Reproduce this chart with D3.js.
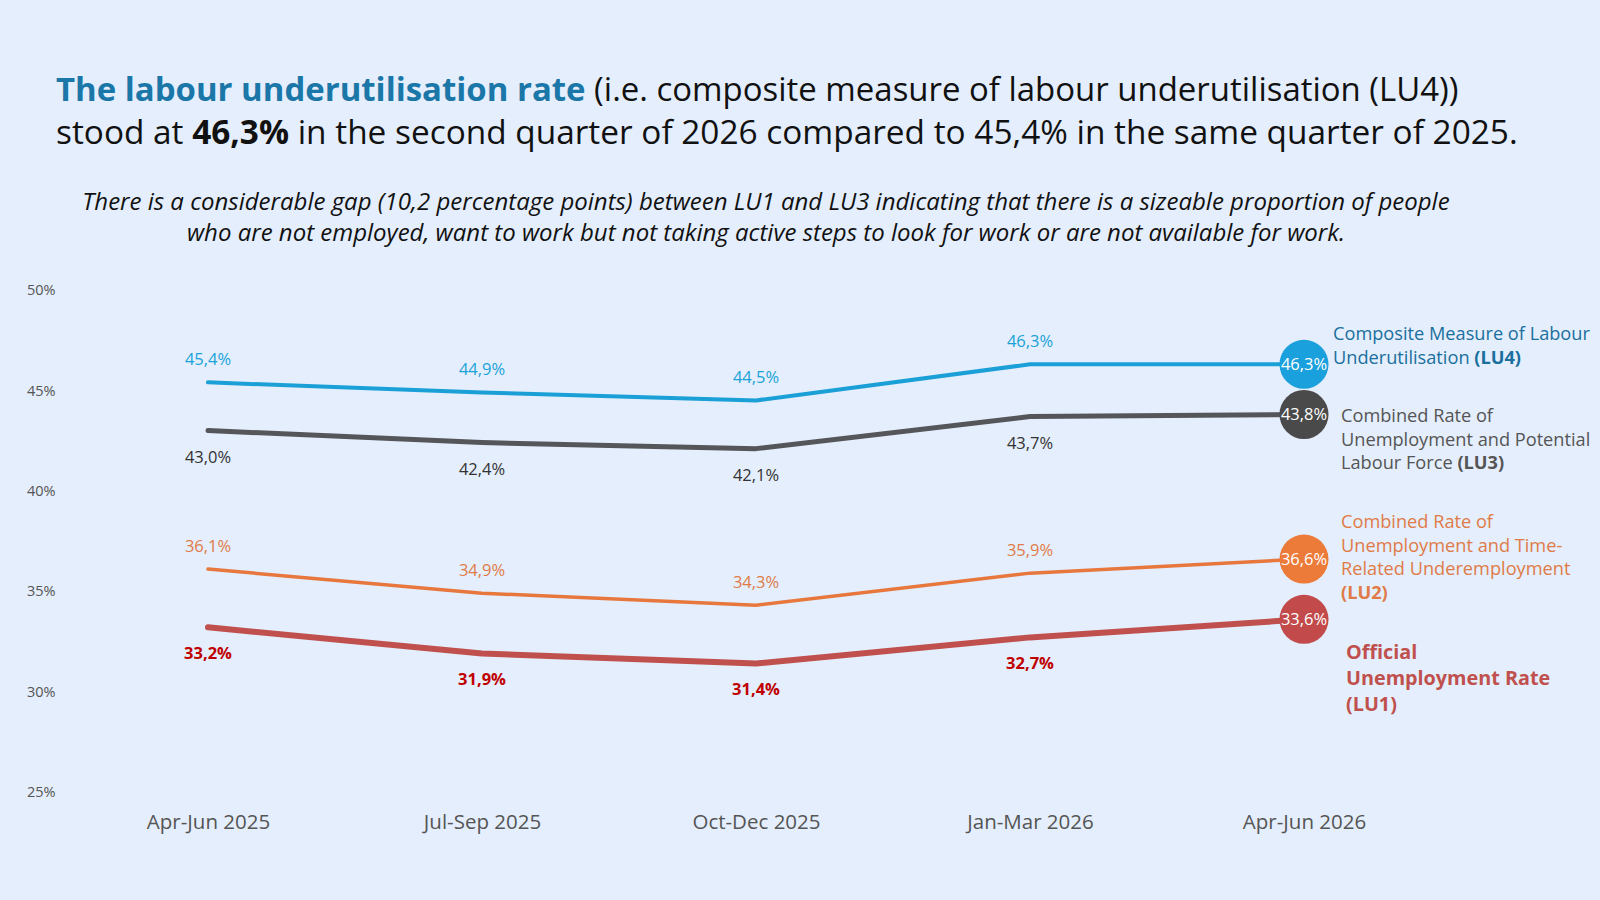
<!DOCTYPE html>
<html>
<head>
<meta charset="utf-8">
<script src="https://cdn.jsdelivr.net/npm/d3@7"></script>
<style>
  html, body { margin: 0; padding: 0; background: #e4eefc; }
  svg { display: block; font-family: 'Open Sans', 'Noto Sans', sans-serif; }
</style>
</head>
<body>
<svg id="chart" width="1600" height="900"></svg>
<script>
// Chart data
const quarters = ['Apr-Jun 2025', 'Jul-Sep 2025', 'Oct-Dec 2025', 'Jan-Mar 2026', 'Apr-Jun 2026'];
const lu4Values = [45.4, 44.9, 44.5, 46.3, 46.3];
const lu3Values = [43.0, 42.4, 42.1, 43.7, 43.8];
const lu2Values = [36.1, 34.9, 34.3, 35.9, 36.6];
const lu1Values = [33.2, 31.9, 31.4, 32.7, 33.6];
const yTicks = [25, 30, 35, 40, 45, 50];

const lu4Legend = ['Composite Measure of Labour', 'Underutilisation |(LU4)'];
const lu3Legend = ['Combined Rate of', 'Unemployment and Potential', 'Labour Force |(LU3)'];
const lu2Legend = ['Combined Rate of', 'Unemployment and Time-', 'Related Underemployment', '|(LU2)'];
const lu1Legend = ['|Official', '|Unemployment Rate', '|(LU1)'];

const svg = d3.select('#chart');
const fmt = (v) => d3.format('.1f')(v).replace('.', ',') + '%';

// Shrink / grow a text element so it spans a given width
function fitWidth(textSel, target) {
  const w = textSel.node().getComputedTextLength();
  const size = parseFloat(textSel.attr('font-size'));
  textSel.attr('font-size', size * target / w);
}

// Headline
const t1 = svg.append('text')
  .attr('x', 56).attr('y', 101)
  .attr('font-size', 31)
  .attr('fill', '#111');
t1.append('tspan').attr('font-weight', 700).attr('fill', '#1a77a8').text('The labour underutilisation rate');
t1.append('tspan').text(' (i.e. composite measure of labour underutilisation (LU4))');
fitWidth(t1, 1403);

const t2 = svg.append('text')
  .attr('x', 56).attr('y', 144)
  .attr('font-size', 31)
  .attr('fill', '#111');
t2.append('tspan').text('stood at ');
t2.append('tspan').attr('font-weight', 700).text('46,3%');
t2.append('tspan').text(' in the second quarter of 2026 compared to 45,4% in the same quarter of 2025.');
fitWidth(t2, 1462);

// Italic sub heading
const s1 = svg.append('text')
  .attr('x', 766).attr('y', 210)
  .attr('text-anchor', 'middle')
  .attr('font-size', 22)
  .attr('font-style', 'italic')
  .attr('fill', '#111')
  .text('There is a considerable gap (10,2 percentage points) between LU1 and LU3 indicating that there is a sizeable proportion of people');
fitWidth(s1, 1368);
svg.append('text')
  .attr('x', 766).attr('y', 241)
  .attr('text-anchor', 'middle')
  .attr('font-size', parseFloat(s1.attr('font-size')))
  .attr('font-style', 'italic')
  .attr('fill', '#111')
  .text('who are not employed, want to work but not taking active steps to look for work or are not available for work.');

// Scales
const xScale = d3.scalePoint()
  .domain(quarters)
  .range([208, 1304]);

const yScale = d3.scaleLinear()
  .domain([25, 50])
  .range([792, 290]);

// Y axis labels only (no lines)
const yAxis = svg.append('g')
  .attr('transform', 'translate(27,0)')
  .call(d3.axisLeft(yScale).tickValues(yTicks).tickSize(0).tickFormat((d) => d + '%'));
yAxis.select('.domain').remove();
yAxis.selectAll('text')
  .attr('text-anchor', 'start')
  .attr('x', 0)
  .attr('font-size', 14.5)
  .attr('font-family', "'Open Sans', sans-serif")
  .attr('fill', '#555');

// X axis labels
const xAxis = svg.append('g')
  .attr('transform', 'translate(0,811)')
  .call(d3.axisBottom(xScale).tickSize(0));
xAxis.select('.domain').remove();
xAxis.selectAll('text')
  .attr('font-size', 20.5)
  .attr('font-family', "'Open Sans', sans-serif")
  .attr('fill', '#555');

// Series setup
const series = [
  { key: 'LU1', values: lu1Values, line: '#c0504d', width: 6, label: '#c00000', bold: true, dy: 32, dot: '#c24a4a', legend: lu1Legend, legendColor: '#c0504d', legendX: 1346, legendY: 659, legendSize: 19.8, legendStep: 26 },
  { key: 'LU2', values: lu2Values, line: '#e8773d', width: 3.5, label: '#e07b48', bold: false, dy: -17, dot: '#ec7a38', legend: lu2Legend, legendColor: '#e07b48', legendX: 1341, legendY: 528, legendSize: 18.2, legendStep: 23.5 },
  { key: 'LU3', values: lu3Values, line: '#55565a', width: 5, label: '#333', bold: false, dy: 32, dot: '#4a4a4a', legend: lu3Legend, legendColor: '#555', legendX: 1341, legendY: 422, legendSize: 18.2, legendStep: 23.5 },
  { key: 'LU4', values: lu4Values, line: '#1a9fd6', width: 4, label: '#1aa3d9', bold: false, dy: -17, dot: '#1aa0dc', legend: lu4Legend, legendColor: '#1a6f9e', legendX: 1333, legendY: 340, legendSize: 18.2, legendStep: 23.5 },
];

const line = d3.line()
  .x((d, i) => xScale(quarters[i]))
  .y((d) => yScale(d));

series.forEach((s) => {
  const g = svg.append('g').attr('class', `series ${s.key}`);

  g.append('path')
    .datum(s.values)
    .attr('d', line)
    .attr('fill', 'none')
    .attr('stroke', s.line)
    .attr('stroke-width', s.width)
    .attr('stroke-linecap', 'round')
    .attr('stroke-linejoin', 'round');

  // Value labels for all but the last point
  g.selectAll('.value-label')
    .data(s.values.slice(0, -1))
    .enter().append('text')
    .attr('class', 'value-label')
    .attr('x', (d, i) => xScale(quarters[i]))
    .attr('y', (d) => yScale(d) + s.dy)
    .attr('text-anchor', 'middle')
    .attr('font-size', 16.5)
    .attr('font-weight', s.bold ? 700 : 400)
    .attr('fill', s.label)
    .text(fmt);

  // Big dot at the last point
  const last = s.values.length - 1;
  g.append('circle')
    .attr('cx', xScale(quarters[last]))
    .attr('cy', yScale(s.values[last]))
    .attr('r', 24.5)
    .attr('fill', s.dot);
  g.append('text')
    .attr('x', xScale(quarters[last]))
    .attr('y', yScale(s.values[last]) + 6)
    .attr('text-anchor', 'middle')
    .attr('font-size', 16.5)
    .attr('fill', '#fff')
    .text(fmt(s.values[last]));

  // Legend text on the right; part after '|' is bold
  s.legend.forEach((ln, i) => {
    const [plain, bold] = ln.split('|');
    const txt = g.append('text')
      .attr('x', s.legendX)
      .attr('y', s.legendY + i * s.legendStep)
      .attr('font-size', s.legendSize)
      .attr('fill', s.legendColor);
    if (plain) txt.append('tspan').text(plain);
    if (bold !== undefined) txt.append('tspan').attr('font-weight', 700).text(bold);
  });
});
</script>
</body>
</html>
